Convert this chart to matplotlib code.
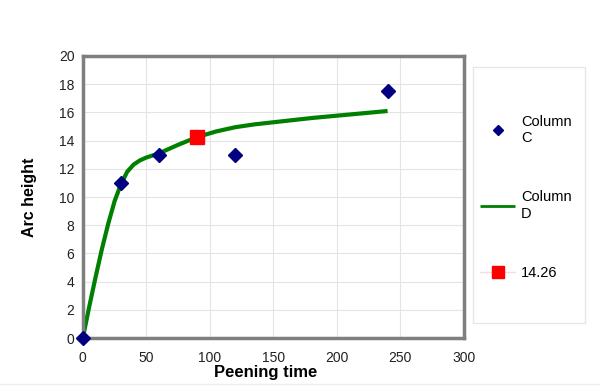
import matplotlib
matplotlib.use("Agg")
import matplotlib.pyplot as plt
from matplotlib.patches import Rectangle

plt.rcParams['font.family'] = ['Liberation Sans', 'DejaVu Sans']

# Column C scatter data
col_c_x = [0, 30, 60, 120, 240]
col_c_y = [0, 11, 13, 13, 17.5]

# Column D curve
col_d_x = [0, 5, 10, 15, 20, 25, 30, 35, 40, 45, 50, 60, 75, 90, 105, 120, 135, 150, 180, 210, 240]
col_d_y = [0, 2.2, 4.3, 6.3, 8.1, 9.7, 10.9, 11.8, 12.3, 12.6, 12.8, 13.1, 13.7, 14.25, 14.65, 14.95, 15.15, 15.3, 15.6, 15.85, 16.1]

# highlighted point
pt_x = [90]
pt_y = [14.26]

xticks = [0, 50, 100, 150, 200, 250, 300]
yticks = list(range(0, 21, 2))

fig = plt.figure(figsize=(6.0, 3.86), dpi=100)
ax = fig.add_axes([0.138, 0.124, 0.635, 0.731])

ax.plot(col_d_x, col_d_y, color='#008000', lw=3, label='Column\nD', zorder=2,
        solid_capstyle='butt', solid_joinstyle='round')
ax.plot(col_c_x, col_c_y, linestyle='none', marker='D', color='#000080', ms=7,
        label='Column\nC', zorder=3, clip_on=False)
ax.plot(pt_x, pt_y, color='#ffd8d8', lw=1, marker='s', ms=10.5, mfc='#ff0000',
        mec='#ff0000', label='14.26', zorder=4)

ax.set_xlim(0, 300)
ax.set_ylim(0, 20)
ax.set_xticks(xticks)
ax.set_yticks(yticks)
ax.grid(True, color='#e4e4e4', lw=0.8)
ax.set_axisbelow(True)
for s in ax.spines.values():
    s.set_color('#7f7f7f')
    s.set_linewidth(2.5)
ax.tick_params(length=0, labelsize=10, colors='#222222', pad=6)
ax.tick_params(axis='x', pad=9)
ax.set_xlabel('Peening time', fontsize=12, fontweight='bold')
ax.xaxis.set_label_coords(0.48, -0.095)
ax.set_ylabel('Arc height', fontsize=11.5, fontweight='bold', labelpad=16)

# legend box
fig.patches.append(Rectangle((473/600, 1-323/386), 112/600, 256/386,
                             transform=fig.transFigure, fill=False,
                             edgecolor='#e6e6e6', lw=1))
h, l = ax.get_legend_handles_labels()
order = [1, 0, 2]
leg = fig.legend([h[i] for i in order], [l[i] for i in order],
                 loc='upper left', bbox_to_anchor=(480/600, 1-115/386),
                 frameon=False, fontsize=10.5, labelspacing=3.1,
                 handlelength=2.4, handletextpad=0.4, markerscale=0.8,
                 borderaxespad=0, borderpad=0)
for line in leg.get_lines():
    line.set_linewidth(min(line.get_linewidth(), 2))

fig.add_artist(plt.Line2D([0, 1], [2/386, 2/386], color='#eeeeee', lw=1,
                          transform=fig.transFigure))

fig.savefig('out.png', dpi=100)
